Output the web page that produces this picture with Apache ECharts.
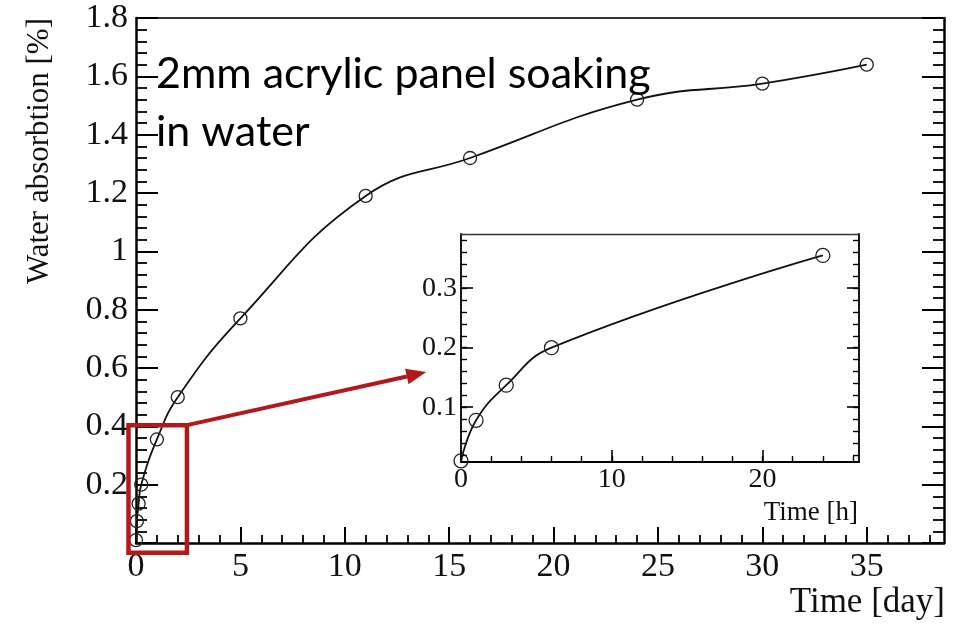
<!DOCTYPE html>
<html><head><meta charset="utf-8">
<script src="https://cdn.jsdelivr.net/npm/echarts@6/dist/echarts.min.js"></script>
<style>html,body{margin:0;padding:0;background:#fff}#c{width:966px;height:625px}</style>
</head><body><div id="c"></div>
<script>
// ---- data ----
const dayTime = [0, 0.042, 0.125, 0.25, 1, 2, 5, 11, 16, 24, 30, 35];
const dayAbs  = [0.01, 0.075, 0.135, 0.2, 0.355, 0.5, 0.77, 1.19, 1.32, 1.52, 1.575, 1.64];
const hourTime = [0, 1, 3, 6, 24];
const hourAbs  = [0.01, 0.078, 0.137, 0.2, 0.355];
const dayTickLabels = [0, 5, 10, 15, 20, 25, 30, 35];
const absTickLabels = [0.2, 0.4, 0.6, 0.8, 1, 1.2, 1.4, 1.6, 1.8];
const hourTickLabels = [0, 10, 20];
const hourAbsTickLabels = [0.1, 0.2, 0.3];
const annotationText = '2mm acrylic panel soaking\nin water';
const yTitle = 'Water absorbtion [%]';
const xTitle = 'Time [day]';
const insetXTitle = 'Time [h]';

function steps(a, b, s) { const r = []; for (let v = a; v <= b + 1e-9; v += s) r.push(Math.round(v * 1000) / 1000); return r; }
const dayMinor = steps(0, 38, 1);
const absMinor = steps(0, 1.8, 0.04);
const absMajor = steps(0, 1.8, 0.2);
const hourMinor = steps(0, 26, 2);
const hourAbsMinor = steps(0.02, 0.38, 0.02);

const serif = 'Liberation Serif';
const ink = '#111';

function frameAxis(o) {
  return Object.assign({
    type: 'value', splitLine: { show: false },
    axisLine: { show: true, onZero: false, lineStyle: { color: '#000', width: 2.5 } },
    axisTick: { show: false }, axisLabel: { show: false }
  }, o);
}
function tickAxis(o, values, len, w) {
  return Object.assign({
    type: 'value', splitLine: { show: false },
    axisLine: { show: false, onZero: false },
    axisTick: { show: true, inside: true, length: len, customValues: values, lineStyle: { color: '#000', width: w } },
    axisLabel: { show: false }
  }, o);
}

const mainX = { gridIndex: 0, min: 0, max: 38.7 };
const mainY = { gridIndex: 0, min: 0, max: 1.8 };
const insX = { gridIndex: 1, min: 0, max: 26.4 };
const insY = { gridIndex: 1, min: 0.008, max: 0.391 };

const xAxis = [
  Object.assign(frameAxis(Object.assign({ position: 'bottom' }, mainX)), {
    axisTick: { show: true, inside: true, length: 16, customValues: dayTickLabels, lineStyle: { color: '#000', width: 2 } },
    axisLabel: { show: true, customValues: dayTickLabels, margin: 7, fontFamily: serif, fontSize: 34, color: ink }
  }),
  tickAxis(Object.assign({ position: 'bottom' }, mainX), dayMinor, 8, 1.8),
  Object.assign(frameAxis(Object.assign({ position: 'top' }, mainX)), {
    axisLine: { show: true, onZero: false, lineStyle: { color: '#333', width: 2 } }
  }),
  Object.assign(frameAxis(Object.assign({ position: 'bottom' }, insX)), {
    axisLine: { show: true, onZero: false, lineStyle: { color: '#000', width: 1.8 } },
    axisTick: { show: true, inside: true, length: 12, customValues: hourTickLabels, lineStyle: { color: '#000', width: 1.6 } },
    axisLabel: { show: true, customValues: hourTickLabels, margin: 4, fontFamily: serif, fontSize: 28, color: ink }
  }),
  tickAxis(Object.assign({ position: 'bottom' }, insX), hourMinor, 6, 1.4),
  Object.assign(frameAxis(Object.assign({ position: 'top' }, insX)), {
    axisLine: { show: true, onZero: false, lineStyle: { color: '#333', width: 1.4 } }
  })
];

const yAxis = [
  Object.assign(frameAxis(Object.assign({ position: 'left' }, mainY)), {
    axisTick: { show: true, inside: true, length: 22, customValues: absMajor, lineStyle: { color: '#000', width: 2 } },
    axisLabel: { show: true, customValues: absTickLabels, margin: 8, fontFamily: serif, fontSize: 34, color: ink }
  }),
  tickAxis(Object.assign({ position: 'left' }, mainY), absMinor, 11, 1.8),
  Object.assign(frameAxis(Object.assign({ position: 'right' }, mainY)), {
    axisTick: { show: true, inside: true, length: 22, customValues: absMajor, lineStyle: { color: '#000', width: 2 } }
  }),
  tickAxis(Object.assign({ position: 'right' }, mainY), absMinor, 11, 1.8),
  Object.assign(frameAxis(Object.assign({ position: 'left' }, insY)), {
    axisLine: { show: true, onZero: false, lineStyle: { color: '#000', width: 1.8 } },
    axisTick: { show: true, inside: true, length: 12, customValues: hourAbsTickLabels, lineStyle: { color: '#000', width: 1.6 } },
    axisLabel: { show: true, customValues: hourAbsTickLabels, margin: 4, fontFamily: serif, fontSize: 28, color: ink }
  }),
  tickAxis(Object.assign({ position: 'left' }, insY), hourAbsMinor, 6, 1.4),
  Object.assign(frameAxis(Object.assign({ position: 'right' }, insY)), {
    axisLine: { show: true, onZero: false, lineStyle: { color: '#000', width: 1.8 } },
    axisTick: { show: true, inside: true, length: 12, customValues: hourAbsTickLabels, lineStyle: { color: '#000', width: 1.6 } }
  }),
  tickAxis(Object.assign({ position: 'right' }, insY), hourAbsMinor, 6, 1.4)
];

const lineSeries = (xi, yi, xs, ys, size) => ({
  type: 'line', xAxisIndex: xi, yAxisIndex: yi,
  data: xs.map((x, i) => [x, ys[i]]),
  smooth: 0.45, clip: false,
  symbol: 'circle', symbolSize: size,
  itemStyle: { color: 'rgba(255,255,255,0)', borderColor: '#222', borderWidth: 1.3 },
  lineStyle: { color: '#111', width: 1.8 },
  z: 5
});

const chart = echarts.init(document.getElementById('c'));
chart.setOption({
  animation: false,
  backgroundColor: '#fff',
  grid: [
    { left: 136, top: 18, width: 808, height: 525 },
    { left: 461, top: 234, width: 398, height: 228, show: true, backgroundColor: '#fff', borderWidth: 0 }
  ],
  xAxis: xAxis,
  yAxis: yAxis,
  series: [
    lineSeries(0, 0, dayTime, dayAbs, 13),
    lineSeries(3, 4, hourTime, hourAbs, 14)
  ]
});

// ---- annotations placed through the axes ----
const mainF = { xAxisIndex: 0, yAxisIndex: 0 };
const insF = { xAxisIndex: 3, yAxisIndex: 4 };
const boxTL = chart.convertToPixel(mainF, [-0.36, 0.404]);
const boxBR = chart.convertToPixel(mainF, [2.44, -0.033]);
const arrowEnd = chart.convertToPixel(insF, [-2.3, 0.159]);
const arrowStart = [boxBR[0], boxTL[1]];
const ang = Math.atan2(arrowEnd[1] - arrowStart[1], arrowEnd[0] - arrowStart[0]);
const headLen = 20, headHalf = 8;
const baseX = arrowEnd[0] - headLen * Math.cos(ang), baseY = arrowEnd[1] - headLen * Math.sin(ang);
const red = '#b3191b';
const gridTop = 18, gridLeft = 136, gridRight = 944;

chart.setOption({
  graphic: [
    { type: 'rect', z: 100, shape: { x: boxTL[0], y: boxTL[1], width: boxBR[0] - boxTL[0], height: boxBR[1] - boxTL[1] },
      style: { fill: null, stroke: red, lineWidth: 4.5 } },
    { type: 'line', z: 100, shape: { x1: arrowStart[0], y1: arrowStart[1], x2: baseX, y2: baseY },
      style: { stroke: red, lineWidth: 4 } },
    { type: 'polygon', z: 100, shape: { points: [
        arrowEnd,
        [baseX + headHalf * Math.sin(ang), baseY - headHalf * Math.cos(ang)],
        [baseX - headHalf * Math.sin(ang), baseY + headHalf * Math.cos(ang)]
      ] }, style: { fill: red } },
    { type: 'text', z: 100, x: gridLeft + 20, y: 45,
      style: { text: annotationText, font: '43px Lato', fill: '#000', lineHeight: 58, align: 'left', verticalAlign: 'top' } },
    { type: 'text', z: 100, x: 40, y: gridTop, rotation: Math.PI / 2,
      style: { text: yTitle, font: '31px "Liberation Serif"', fill: ink, align: 'right', verticalAlign: 'middle' } },
    { type: 'text', z: 100, x: gridRight + 1, y: 603,
      style: { text: xTitle, font: '35px "Liberation Serif"', fill: ink, align: 'right', verticalAlign: 'middle' } },
    { type: 'text', z: 100, x: 858, y: 513,
      style: { text: insetXTitle, font: '27px "Liberation Serif"', fill: ink, align: 'right', verticalAlign: 'middle' } }
  ]
});
</script></body></html>
